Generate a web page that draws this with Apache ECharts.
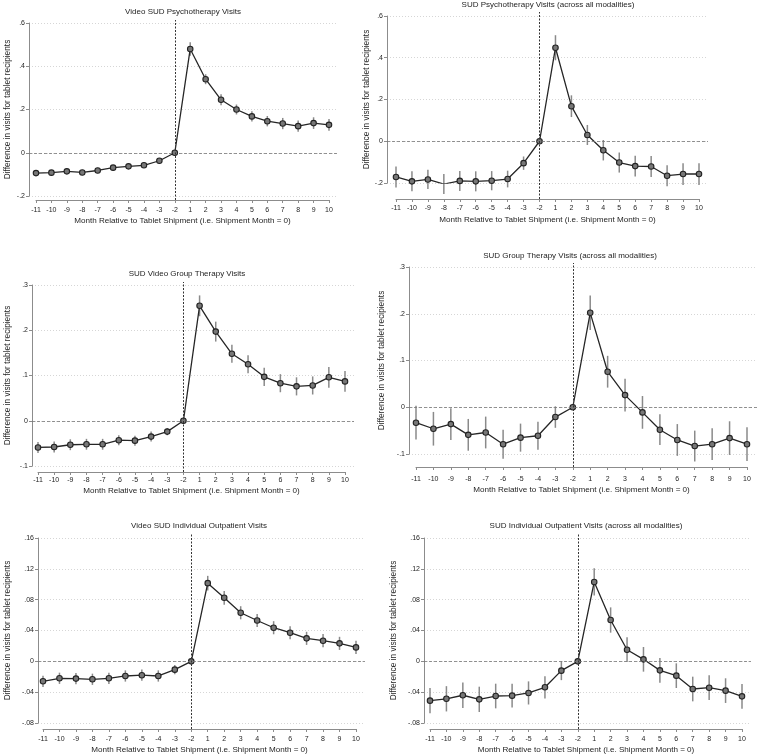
<!DOCTYPE html>
<html>
<head>
<meta charset="utf-8">
<script src="https://cdn.jsdelivr.net/npm/echarts@6/dist/echarts.min.js"></script>
<style>
html,body{margin:0;padding:0;background:#fff;}
#chart{width:758px;height:756px;}
</style>
</head>
<body>
<div id="chart"></div>
<script>
// ---- data ----
const categories = ['-11','-10','-9','-8','-7','-6','-5','-4','-3','-2','1','2','3','4','5','6','7','8','9','10'];
const refCategory = '-2';

const titles = [
  'Video SUD Psychotherapy Visits',
  'SUD Psychotherapy Visits (across all modalities)',
  'SUD Video Group Therapy Visits',
  'SUD Group Therapy Visits (across all modalities)',
  'Video SUD Individual Outpatient Visits',
  'SUD Individual Outpatient Visits (across all modalities)'
];
const xTitle = 'Month Relative to Tablet Shipment (i.e. Shipment Month = 0)';
const yTitle = 'Difference in visits for tablet recipients';

const p1Coef = [-0.094,-0.092,-0.086,-0.091,-0.082,-0.069,-0.063,-0.058,-0.037,0,0.480,0.340,0.245,0.200,0.168,0.146,0.135,0.123,0.137,0.129];
const p1Ci   = [0.011,0.011,0.011,0.011,0.011,0.011,0.011,0.011,0.011,0,0.031,0.023,0.025,0.023,0.024,0.024,0.026,0.026,0.027,0.027];

const p2Coef = [-0.171,-0.192,-0.183,-0.205,-0.190,-0.192,-0.189,-0.181,-0.105,0,0.448,0.168,0.030,-0.043,-0.102,-0.119,-0.121,-0.165,-0.157,-0.157];
const p2Ci   = [0.050,0.048,0.046,0.048,0.048,0.048,0.046,0.040,0.032,0,0.060,0.052,0.048,0.049,0.048,0.050,0.050,0.050,0.052,0.052];

const p3Coef = [-0.059,-0.058,-0.053,-0.052,-0.052,-0.043,-0.044,-0.035,-0.024,0,0.254,0.197,0.148,0.125,0.097,0.083,0.076,0.078,0.096,0.087];
const p3Ci   = [0.012,0.012,0.012,0.012,0.012,0.011,0.011,0.011,0.008,0,0.023,0.022,0.020,0.020,0.020,0.020,0.020,0.020,0.023,0.023];

const p4Coef = [-0.033,-0.046,-0.036,-0.059,-0.054,-0.079,-0.065,-0.061,-0.021,0,0.202,0.076,0.026,-0.011,-0.048,-0.070,-0.083,-0.079,-0.066,-0.079];
const p4Ci   = [0.036,0.036,0.034,0.034,0.034,0.031,0.030,0.030,0.023,0,0.037,0.034,0.035,0.035,0.033,0.034,0.033,0.034,0.036,0.036];

const p5Coef = [-0.0259,-0.0220,-0.0224,-0.0233,-0.0220,-0.0190,-0.0180,-0.0190,-0.0108,0,0.1014,0.0824,0.0630,0.0530,0.0436,0.0371,0.0298,0.0268,0.0233,0.0181];
const p5Ci   = [0.0073,0.0073,0.0073,0.0073,0.0073,0.0073,0.0073,0.0073,0.0060,0,0.0095,0.0090,0.0085,0.0085,0.0085,0.0085,0.0085,0.0085,0.0085,0.0085];

const p6Coef = [-0.0510,-0.0486,-0.0440,-0.0493,-0.0450,-0.0445,-0.0410,-0.0337,-0.0121,0,0.1030,0.0536,0.0151,0.0026,-0.0117,-0.0186,-0.0359,-0.0342,-0.0380,-0.0454];
const p6Ci   = [0.0164,0.0164,0.0164,0.0164,0.0160,0.0155,0.0150,0.0145,0.0123,0,0.0177,0.0164,0.0160,0.0160,0.0160,0.0160,0.0160,0.0160,0.0160,0.0160];

const coefs = [p1Coef,p2Coef,p3Coef,p4Coef,p5Coef,p6Coef];
const cis   = [p1Ci,p2Ci,p3Ci,p4Ci,p5Ci,p6Ci];

const yMins = [-0.2,-0.2,-0.1,-0.1,-0.08,-0.08];
const yMaxs = [0.6,0.6,0.3,0.3,0.16,0.16];
const yInts = [0.2,0.2,0.1,0.1,0.04,0.04];

// ---- layout (pixels) ----
const W = 758, H = 756;
const layout = [
  {xFirst:36, xLast:329, yTop:23, yBot:196, yAxisX:29, gridEnd:338, plotTop:20, axisY:200, tX:183, tY:12, yNameX:7, lm:7, ng:16.5},
  {xFirst:396, xLast:699, yTop:16, yBot:183, yAxisX:387, gridEnd:708, plotTop:12, axisY:199, tX:548, tY:5, yNameX:366, lm:6, ng:16.5},
  {xFirst:38, xLast:345, yTop:285, yBot:466, yAxisX:32, gridEnd:354, plotTop:282, axisY:472, tX:187, tY:274, yNameX:7, lm:5, ng:15},
  {xFirst:416, xLast:747, yTop:267, yBot:454, yAxisX:409, gridEnd:757, plotTop:263, axisY:467, tX:570, tY:256, yNameX:381, lm:9, ng:19},
  {xFirst:43, xLast:356, yTop:538, yBot:723, yAxisX:38, gridEnd:365, plotTop:533, axisY:729, tX:199, tY:526, yNameX:7, lm:6.5, ng:16.5},
  {xFirst:430, xLast:742, yTop:538, yBot:723, yAxisX:424, gridEnd:751, plotTop:533, axisY:729, tX:586, tY:526, yNameX:393, lm:6.5, ng:16.5}
];

const FONT = '"Liberation Sans", Arial, Helvetica, sans-serif';
const TXT = '#1e1e1e';
const AXC = '#8c8c8c';

function fmtY(v){
  const r = +(+v).toFixed(4);
  if (r === 0) return '0';
  return String(r).replace('0.', '.');
}

const grid = [], xAxis = [], yAxis = [], series = [], graphic = [];

layout.forEach((L, p) => {
  const gA = grid.length;
  grid.push({left:L.xFirst, right:W-L.xLast, top:L.yTop, bottom:H-L.yBot});           // data grid
  grid.push({left:L.yAxisX, right:W-L.gridEnd, top:L.yTop, bottom:H-L.yBot});          // background grid
  grid.push({left:L.xFirst, right:W-L.xLast, top:L.plotTop, bottom:H-L.axisY});        // x axis grid

  xAxis.push({gridIndex:gA, type:'category', data:categories, boundaryGap:false, show:false});
  yAxis.push({
    gridIndex:gA, type:'value', min:yMins[p], max:yMaxs[p], interval:yInts[p],
    offset: L.xFirst - L.yAxisX,
    axisLine:{show:true, lineStyle:{color:AXC, width:1}},
    axisTick:{show:true, length:3, lineStyle:{color:AXC}},
    axisLabel:{fontSize:7, color:TXT, fontFamily:FONT, margin:4, formatter:fmtY},
    splitLine:{show:false},
    name:yTitle, nameLocation:'middle', nameGap: L.yAxisX - L.yNameX - 5,
    nameTextStyle:{fontSize:8.3, color:TXT, fontFamily:FONT}
  });
  xAxis.push({gridIndex:gA+1, type:'value', min:0, max:1, show:false});
  yAxis.push({
    gridIndex:gA+1, type:'value', min:yMins[p], max:yMaxs[p], interval:yInts[p],
    axisLine:{show:false}, axisTick:{show:false}, axisLabel:{show:false},
    splitLine:{show:true, lineStyle:{color:'#d6d6d6', type:[1,2], width:1}}
  });
  xAxis.push({
    gridIndex:gA+2, type:'category', data:categories, boundaryGap:false,
    axisLine:{show:true, onZero:false, lineStyle:{color:AXC, width:1}},
    axisTick:{show:true, length:3, alignWithLabel:true, interval:0, lineStyle:{color:AXC}},
    axisLabel:{fontSize:7, color:TXT, fontFamily:FONT, margin:L.lm, interval:0},
    splitLine:{show:false},
    name:xTitle, nameLocation:'middle', nameGap:L.ng,
    nameTextStyle:{fontSize:8.1, color:TXT, fontFamily:FONT}
  });
  yAxis.push({gridIndex:gA+2, type:'value', min:0, max:1, show:false});

  series.push({
    type:'line', xAxisIndex:gA+1, yAxisIndex:gA+1, data:[], silent:true, z:1,
    markLine:{silent:true, symbol:'none', label:{show:false},
      lineStyle:{color:'#777', type:[3,2], width:0.8},
      data:[{yAxis:0}]}
  });
  series.push({
    type:'line', xAxisIndex:gA+2, yAxisIndex:gA+2, data:[], silent:true, z:1,
    markLine:{silent:true, symbol:'none', label:{show:false},
      lineStyle:{color:'#333', type:[2,1.5], width:1},
      data:[{xAxis:categories.indexOf(refCategory)}]}
  });
  series.push({
    type:'custom', xAxisIndex:gA, yAxisIndex:gA, z:2, silent:true,
    data: categories.map((c,i)=>[i, coefs[p][i]-cis[p][i], coefs[p][i]+cis[p][i]]),
    encode:{x:0, y:[1,2]},
    renderItem:function(params, api){
      const a = api.coord([api.value(0), api.value(1)]);
      const b = api.coord([api.value(0), api.value(2)]);
      return {type:'line', shape:{x1:a[0], y1:a[1], x2:b[0], y2:b[1]},
              style:{stroke:'#8a8a8a', lineWidth:1.5}};
    }
  });
  series.push({
    type:'line', xAxisIndex:gA, yAxisIndex:gA, z:3, silent:true,
    data: coefs[p],
    symbol:'circle', symbolSize:5.5,
    lineStyle:{color:'#262626', width:1.3},
    itemStyle:{color:'#777', borderColor:'#222', borderWidth:1.1}
  });

  graphic.push({
    type:'text', x:L.tX, y:L.tY, silent:true,
    style:{text:titles[p], font:'8px '+FONT, fill:TXT, textAlign:'center', textVerticalAlign:'middle'}
  });
});

const chart = echarts.init(document.getElementById('chart'), null, {renderer:'canvas'});
chart.setOption({
  animation:false,
  backgroundColor:'#fff',
  grid, xAxis, yAxis, series, graphic
});
</script>
</body>
</html>
